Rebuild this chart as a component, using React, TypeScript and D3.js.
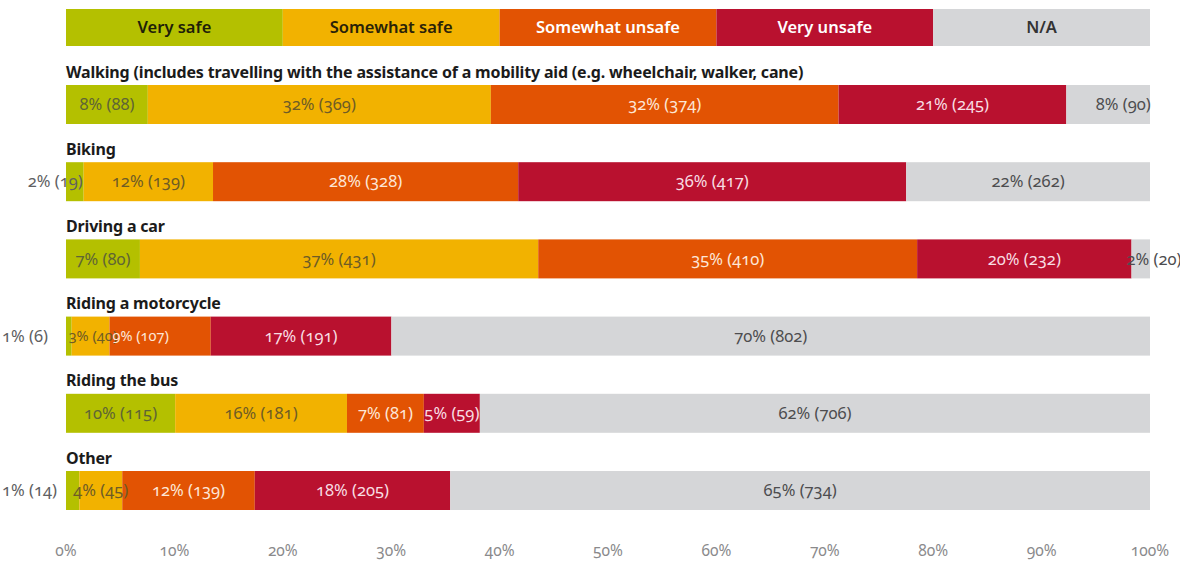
import React from "react";
import * as d3 from "d3";

// Survey: how safe respondents feel for each mode of travel
const categories = [
  "Walking (includes travelling with the assistance of a mobility aid (e.g. wheelchair, walker, cane)",
  "Biking",
  "Driving a car",
  "Riding a motorcycle",
  "Riding the bus",
  "Other",
];

const responses = ["Very safe", "Somewhat safe", "Somewhat unsafe", "Very unsafe", "N/A"];

// Respondent counts per answer, one entry per category
const verySafeCounts = [88, 19, 80, 6, 115, 14];
const somewhatSafeCounts = [369, 139, 431, 40, 181, 45];
const somewhatUnsafeCounts = [374, 328, 410, 107, 81, 139];
const veryUnsafeCounts = [245, 417, 232, 191, 59, 205];
const naCounts = [90, 262, 20, 802, 706, 734];

// Rounded percentages as printed on each segment
const verySafePct = [8, 2, 7, 1, 10, 1];
const somewhatSafePct = [32, 12, 37, 3, 16, 4];
const somewhatUnsafePct = [32, 28, 35, 9, 7, 12];
const veryUnsafePct = [21, 36, 20, 17, 5, 18];
const naPct = [8, 22, 2, 70, 62, 65];

const axisTicks = [0, 0.1, 0.2, 0.3, 0.4, 0.5, 0.6, 0.7, 0.8, 0.9, 1];

const countSeries = [verySafeCounts, somewhatSafeCounts, somewhatUnsafeCounts, veryUnsafeCounts, naCounts];
const pctSeries = [verySafePct, somewhatSafePct, somewhatUnsafePct, veryUnsafePct, naPct];

// Styling
const WIDTH = 1180;
const HEIGHT = 562;
const FONT = "'Noto Sans', 'Open Sans', sans-serif";
const fills = ["#b4c000", "#f2b200", "#e25303", "#b9112f", "#d5d6d8"];
const legendText = ["#1e2008", "#2a2208", "#ffffff", "#ffffff", "#333333"];
const segText = ["#5f6535", "#6e5c26", "#fde6d6", "#f8dde2", "#4d4d4f"];
const outsideText = "#606062";

// Layout
const X_LEFT = 66;
const X_RIGHT = 1150;
const LEGEND_TOP = 9;
const LEGEND_H = 37;
const FIRST_BAR_TOP = 85;
const ROW_STEP = 77.2;
const BAR_H = 39;
const AXIS_Y = 551;

// Labels that do not sit centred in their segment
type Placement = { from: "start" | "end" | "center" | "barStart"; anchor: "start" | "middle" | "end"; dx: number; outside?: boolean; size?: number };
const labelPlacement: Record<string, Placement> = {
  "1-0": { from: "end", anchor: "end", dx: -1, outside: true },
  "3-0": { from: "barStart", anchor: "end", dx: -18, outside: true },
  "3-1": { from: "start", anchor: "start", dx: -3, size: 14.5 },
  "3-2": { from: "start", anchor: "start", dx: 3, size: 14.5 },
  "5-0": { from: "barStart", anchor: "end", dx: -9, outside: true },
  "0-4": { from: "center", anchor: "middle", dx: 15 },
  "2-4": { from: "start", anchor: "start", dx: -5 },
};

export default function App() {
  const x = d3.scaleLinear().domain([0, 1]).range([X_LEFT, X_RIGHT]);
  const legendBand = d3.scaleBand<string>().domain(responses).range([X_LEFT, X_RIGHT]).padding(0);
  const rowTop = d3
    .scaleLinear()
    .domain([0, 1])
    .range([FIRST_BAR_TOP, FIRST_BAR_TOP + ROW_STEP]);

  const rows = categories.map((cat, i) => {
    const counts = countSeries.map((s) => s[i]);
    const total = d3.sum(counts);
    let acc = 0;
    const segs = counts.map((c, k) => {
      const start = acc / total;
      acc += c;
      const end = acc / total;
      return { k, count: c, pct: pctSeries[k][i], start, end };
    });
    return { cat, i, segs };
  });

  return (
    <svg
      width={WIDTH}
      height={HEIGHT}
      viewBox={`0 0 ${WIDTH} ${HEIGHT}`}
      style={{ position: "absolute", left: 0, top: 0, background: "#ffffff", fontFamily: FONT }}
    >
      {/* legend strip */}
      <g>
        {responses.map((r, k) => (
          <g key={r}>
            <rect x={legendBand(r)} y={LEGEND_TOP} width={legendBand.bandwidth()} height={LEGEND_H} fill={fills[k]} />
            <text
              x={(legendBand(r) as number) + legendBand.bandwidth() / 2}
              y={LEGEND_TOP + LEGEND_H / 2}
              dy="0.35em"
              textAnchor="middle"
              fontSize={16.5}
              fontWeight={600}
              fill={legendText[k]}
            >
              {r}
            </text>
          </g>
        ))}
      </g>

      {/* one stacked bar per category */}
      {rows.map((row) => {
        const top = rowTop(row.i);
        const midY = top + BAR_H / 2;
        return (
          <g key={row.cat}>
            <text x={X_LEFT} y={top - 13} dy="0.35em" fontSize={16} fontWeight={700} fill="#1b1b1b" letterSpacing={-0.17}>
              {row.cat}
            </text>
            {row.segs.map((s) => (
              <rect
                key={`r${s.k}`}
                x={x(s.start)}
                y={top}
                width={Math.max(0, x(s.end) - x(s.start))}
                height={BAR_H}
                fill={fills[s.k]}
              />
            ))}
            {row.segs.map((s) => {
              const key = `${row.i}-${s.k}`;
              const p = labelPlacement[key];
              const x0 = x(s.start);
              const x1 = x(s.end);
              let tx = (x0 + x1) / 2;
              let anchor: "start" | "middle" | "end" = "middle";
              let color = segText[s.k];
              let size = 16.5;
              if (p) {
                const base = p.from === "start" ? x0 : p.from === "end" ? x1 : p.from === "barStart" ? X_LEFT : (x0 + x1) / 2;
                tx = base + p.dx;
                anchor = p.anchor;
                if (p.outside) color = outsideText;
                if (p.size) size = p.size;
              }
              return (
                <text
                  key={`t${s.k}`}
                  x={tx}
                  y={midY}
                  dy="0.35em"
                  textAnchor={anchor}
                  fontSize={size}
                  fill={color}
                  style={{ fontVariantNumeric: "oldstyle-nums" }}
                >
                  {`${s.pct}% (${s.count})`}
                </text>
              );
            })}
          </g>
        );
      })}

      {/* percentage axis labels */}
      <g>
        {axisTicks.map((t) => (
          <text
            key={t}
            x={x(t)}
            y={AXIS_Y}
            dy="0.35em"
            textAnchor="middle"
            fontSize={15.5}
            fill="#8a8a8c"
            style={{ fontVariantNumeric: "oldstyle-nums" }}
          >
            {d3.format(".0%")(t)}
          </text>
        ))}
      </g>
    </svg>
  );
}
